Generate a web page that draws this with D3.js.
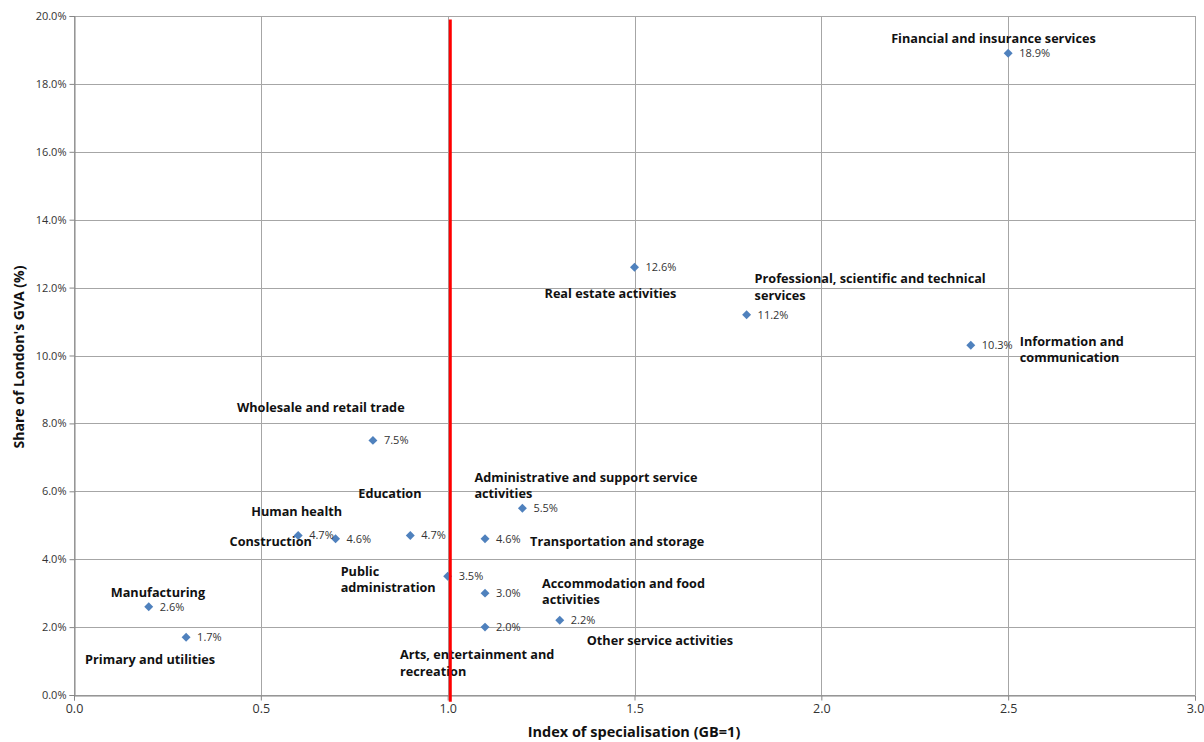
<!DOCTYPE html>
<html><head><meta charset="utf-8">
<script src="https://cdn.jsdelivr.net/npm/d3@7"></script>
<style>
body{margin:0;background:#fff;}
svg{display:block;}
</style></head>
<body>
<svg id="chart" width="1204" height="742"></svg>
<script>
// ---- data ----
const categories = [
  "Financial and insurance services",
  "Real estate activities",
  "Professional, scientific and technical services",
  "Information and communication",
  "Wholesale and retail trade",
  "Administrative and support service activities",
  "Education",
  "Human health",
  "Construction",
  "Transportation and storage",
  "Public administration",
  "Accommodation and food activities",
  "Other service activities",
  "Arts, entertainment and recreation",
  "Manufacturing",
  "Primary and utilities"
];
const specialisation = [2.5, 1.5, 1.8, 2.4, 0.8, 1.2, 0.9, 0.6, 0.7, 1.1, 1.0, 1.1, 1.3, 1.1, 0.2, 0.3];
const gvaShare = [18.9, 12.6, 11.2, 10.3, 7.5, 5.5, 4.7, 4.7, 4.6, 4.6, 3.5, 3.0, 2.2, 2.0, 2.6, 1.7];
const xTicks = [0, 0.5, 1.0, 1.5, 2.0, 2.5, 3.0];
const yTicks = [0, 2, 4, 6, 8, 10, 12, 14, 16, 18, 20];
const referenceLine = [[1.007, 19.9], [1.007, -0.2]];

// ---- label layout (offsets in px from the marker) ----
const labelLayout = {
  "Financial and insurance services": {dx:-117, dy:-14, lines:["Financial and insurance services"]},
  "Real estate activities": {dx:-90, dy:27, lines:["Real estate activities"]},
  "Professional, scientific and technical services": {dx:8, dy:-35, lines:["Professional, scientific and technical","services"]},
  "Information and communication": {dx:49, dy:-3, lines:["Information and","communication"]},
  "Wholesale and retail trade": {dx:-136, dy:-32, lines:["Wholesale and retail trade"]},
  "Administrative and support service activities": {dx:-48, dy:-30, lines:["Administrative and support service","activities"]},
  "Education": {dx:-52, dy:-41, lines:["Education"]},
  "Human health": {dx:-47, dy:-23, lines:["Human health"]},
  "Construction": {dx:-106, dy:4, lines:["Construction"]},
  "Transportation and storage": {dx:45, dy:4, lines:["Transportation and storage"]},
  "Public administration": {dx:-107, dy:-4, lines:["Public","administration"]},
  "Accommodation and food activities": {dx:57, dy:-9, lines:["Accommodation and food","activities"]},
  "Other service activities": {dx:27, dy:21, lines:["Other service activities"]},
  "Arts, entertainment and recreation": {dx:-85, dy:29, lines:["Arts, entertainment and","recreation"]},
  "Manufacturing": {dx:-38, dy:-13, lines:["Manufacturing"]},
  "Primary and utilities": {dx:-101, dy:23, lines:["Primary and utilities"]}
};

const points = categories.map((c,i)=>({name:c, x:specialisation[i], y:gvaShare[i]}));

const svg = d3.select("#chart");
const mLeft = 74, mRight = 1195, mTop = 16, mBottom = 695;
const x = d3.scaleLinear().domain([0,3]).range([mLeft,mRight]);
const y = d3.scaleLinear().domain([0,20]).range([mBottom,mTop]);

const font = "'Open Sans', Lato, sans-serif";
const gridColor = "#a6a6a6";

// grid
const g = svg.append("g");
g.selectAll(".hg").data(yTicks).join("line")
  .attr("x1", mLeft).attr("x2", mRight)
  .attr("y1", d=>Math.round(y(d))+0.5).attr("y2", d=>Math.round(y(d))+0.5)
  .attr("stroke", gridColor).attr("stroke-width",1);
g.selectAll(".vg").data(xTicks).join("line")
  .attr("y1", mTop).attr("y2", mBottom)
  .attr("x1", d=>Math.round(x(d))+0.5).attr("x2", d=>Math.round(x(d))+0.5)
  .attr("stroke", gridColor).attr("stroke-width",1);

// axes
const xAxis = d3.axisBottom(x).tickValues(xTicks).tickFormat(d3.format(".1f")).tickSize(5).tickPadding(4);
const yAxis = d3.axisLeft(y).tickValues(yTicks).tickFormat(d=>d.toFixed(1)+"%").tickSize(5).tickPadding(3);
const gx = svg.append("g").attr("transform",`translate(0,${mBottom+0.5})`).call(xAxis);
const gy = svg.append("g").attr("transform",`translate(${mLeft+0.5},0)`).call(yAxis);
[gx,gy].forEach(a=>{
  a.select(".domain").attr("stroke","#868686");
  a.selectAll(".tick line").attr("stroke","#868686");
  a.selectAll("text").attr("fill","#333").attr("font-family",font);
});
gx.selectAll("text").attr("font-size",12.5);
gy.selectAll("text").attr("font-size",11);

// axis titles
svg.append("text").attr("x",634).attr("y",737)
  .attr("text-anchor","middle").attr("font-family",font).attr("font-weight","bold")
  .attr("font-size",14.5).attr("fill","#111").text("Index of specialisation (GB=1)");
svg.append("text").attr("transform",`translate(24,357) rotate(-90)`)
  .attr("text-anchor","middle").attr("font-family",font).attr("font-weight","bold")
  .attr("font-size",14).attr("fill","#111").text("Share of London's GVA (%)");

// markers
const sym = d3.symbol(d3.symbolSquare, 40);
svg.append("g").selectAll("path").data(points).join("path")
  .attr("d", sym)
  .attr("transform", d=>`translate(${x(d.x)},${y(d.y)}) rotate(45)`)
  .attr("fill","#4f81bd");

// value labels
svg.append("g").selectAll("text").data(points).join("text")
  .attr("x", d=>x(d.x)+11).attr("y", d=>y(d.y)+1)
  .attr("dominant-baseline","middle")
  .attr("font-family",font).attr("font-size",11).attr("fill","#333")
  .text(d=>d.y.toFixed(1)+"%");

// category labels
const lg = svg.append("g");
points.forEach(p=>{
  const L = labelLayout[p.name];
  const t = lg.append("text")
    .attr("font-family",font).attr("font-weight","bold").attr("font-size",12.7)
    .attr("fill","#111");
  L.lines.forEach((ln,i)=>{
    t.append("tspan").attr("x", x(p.x)+L.dx).attr("y", y(p.y)+L.dy+i*16.5)
      .attr("dominant-baseline","middle").text(ln);
  });
});

// reference line
svg.append("path").datum(referenceLine)
  .attr("d", d3.line().x(d=>x(d[0])).y(d=>y(d[1])))
  .attr("stroke","#ff0000").attr("stroke-width",3).attr("fill","none");
</script>
</body></html>
